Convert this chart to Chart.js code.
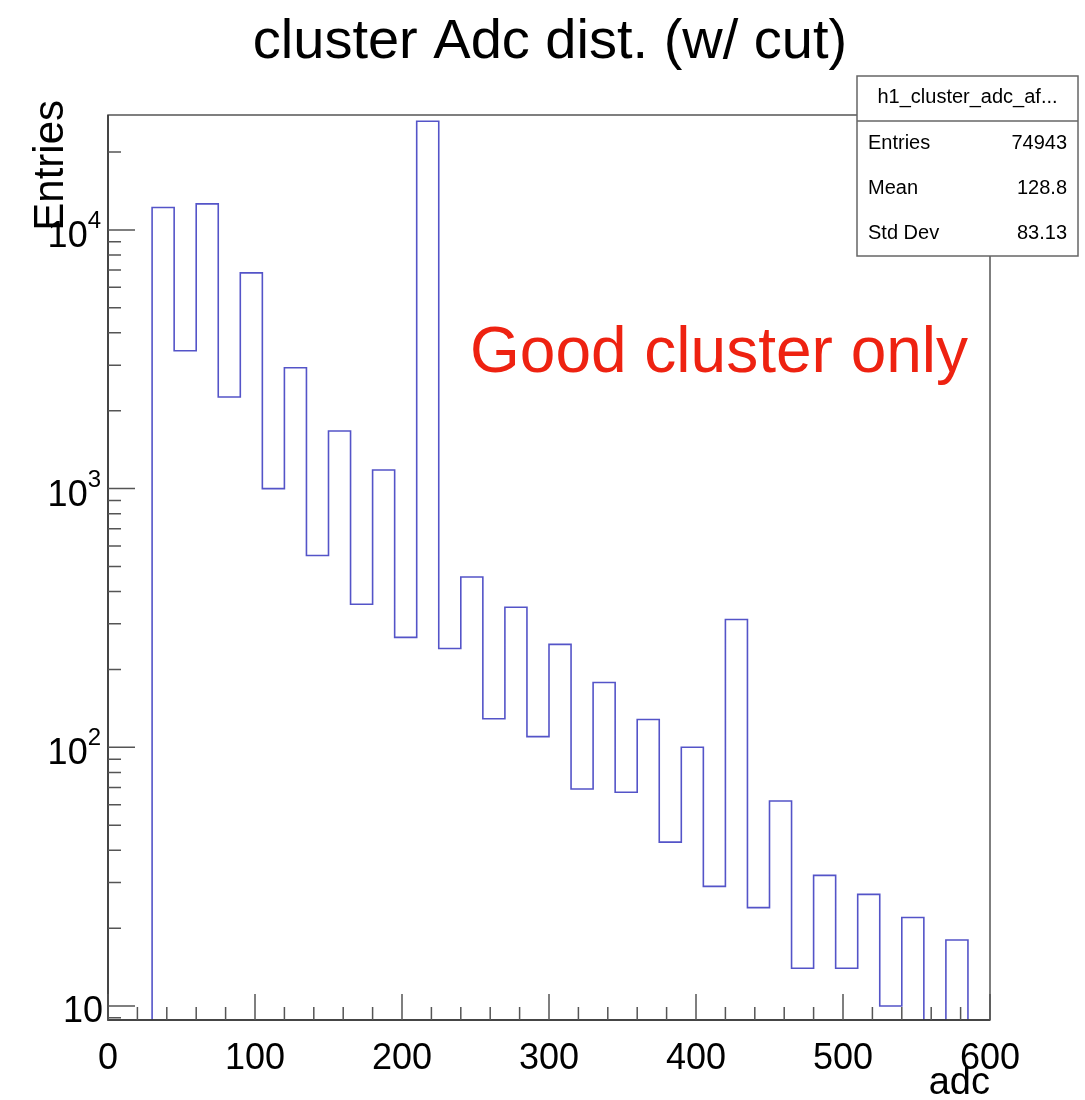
<!DOCTYPE html>
<html>
<head>
<meta charset="utf-8">
<script src="https://cdn.jsdelivr.net/npm/chart.js@4.4.1/dist/chart.umd.min.js"></script>
<style>
  html, body { margin: 0; padding: 0; background: #ffffff; }
  #wrap { width: 1085px; height: 1100px; }
</style>
</head>
<body>
<div id="wrap"><canvas id="c" width="1085" height="1100"></canvas></div>
<script>
// ---------------- data ----------------
const chartTitle = 'cluster Adc dist. (w/ cut)';
const xTitle = 'adc';
const yTitle = 'Entries';
const annotation = 'Good cluster only';
const binWidth = 15;
const binLowEdges = [30, 45, 60, 75, 90, 105, 120, 135, 150, 165, 180, 195, 210, 225, 240, 255, 270, 285, 300,
                     315, 330, 345, 360, 375, 390, 405, 420, 435, 450, 465, 480, 495, 510, 525, 540, 555, 570];
const counts = [12200, 3410, 12600, 2260, 6820, 1000, 2930, 551, 1670, 357, 1180, 266, 26300, 241, 455, 129, 348, 110, 250,
                69, 178, 67, 128, 43, 100, 29, 312, 24, 62, 14, 32, 14, 27, 10, 22, 0, 18];
const xTickValues = [0, 100, 200, 300, 400, 500, 600];
const yDecades = [10, 100, 1000, 10000];
const statsName = 'h1_cluster_adc_af...';
const statsLabels = ['Entries', 'Mean', 'Std Dev'];
const statsValues = ['74943', '128.8', '83.13'];
const X_MIN = 0, X_MAX = 600;
const Y_MIN = 8.83, Y_MAX = 27800;

// ---------------- build histogram outline ----------------
const FONT = '"Liberation Sans", Arial, Helvetica, sans-serif';
const lowVal = Y_MIN;
const pts = [];
pts.push({ x: binLowEdges[0], y: lowVal });
binLowEdges.forEach((e, i) => {
  pts.push({ x: e, y: Math.max(counts[i], lowVal) });
});
const lastEdge = binLowEdges[binLowEdges.length - 1] + binWidth;
pts.push({ x: lastEdge, y: Math.max(counts[counts.length - 1], lowVal) });
pts.push({ x: lastEdge, y: lowVal });

// ---------------- decorations plugin (ROOT style) ----------------
const rootDecor = {
  id: 'rootDecor',
  afterDraw(chart) {
    const ctx = chart.ctx;
    const a = chart.chartArea;
    const xs = chart.scales.x, ys = chart.scales.y;
    ctx.save();

    // frame
    ctx.strokeStyle = '#555555';
    ctx.lineWidth = 1.5;
    ctx.strokeRect(a.left, a.top, a.right - a.left, a.bottom - a.top);

    // axes
    ctx.strokeStyle = '#333333';
    ctx.beginPath();
    ctx.moveTo(a.left, a.top); ctx.lineTo(a.left, a.bottom); ctx.lineTo(a.right, a.bottom);
    ctx.stroke();

    // x ticks (inside, from bottom)
    ctx.strokeStyle = '#555555';
    ctx.lineWidth = 1.5;
    ctx.beginPath();
    for (let v = X_MIN; v <= X_MAX; v += 20) {
      const px = xs.getPixelForValue(v);
      const len = (v % 100 === 0) ? 26 : 13;
      ctx.moveTo(px, a.bottom); ctx.lineTo(px, a.bottom - len);
    }
    // y ticks (inside, from left)
    [1, 10, 100, 1000, 10000].forEach(d => {
      for (let m = 1; m <= 9; m++) {
        const v = m * d;
        if (v < Y_MIN || v > Y_MAX) continue;
        const py = ys.getPixelForValue(v);
        const len = (m === 1) ? 27 : 13;
        ctx.moveTo(a.left, py); ctx.lineTo(a.left + len, py);
      }
    });
    ctx.stroke();

    // y labels 10^n
    ctx.fillStyle = '#000000';
    const rightX = a.left - 7;
    yDecades.forEach(d => {
      const e = Math.round(Math.log10(d));
      const py = ys.getPixelForValue(d);
      ctx.textBaseline = 'alphabetic';
      if (e === 1) {
        ctx.font = '36px ' + FONT;
        ctx.textAlign = 'right';
        ctx.fillText('10', rightX + 2, py + 16);
      } else {
        ctx.font = '24px ' + FONT;
        const sup = String(e);
        const sw = ctx.measureText(sup).width;
        ctx.textAlign = 'right';
        ctx.fillText(sup, rightX, py - 2);
        ctx.font = '36px ' + FONT;
        ctx.fillText('10', rightX - sw, py + 17);
      }
    });

    // title
    ctx.font = '56px ' + FONT;
    ctx.textAlign = 'center';
    ctx.textBaseline = 'alphabetic';
    ctx.fillText(chartTitle, 550, 58);

    // y title (rotated, aligned to the top)
    ctx.save();
    ctx.translate(63, a.top - 15);
    ctx.rotate(-Math.PI / 2);
    ctx.font = '42px ' + FONT;
    ctx.textAlign = 'right';
    ctx.textBaseline = 'alphabetic';
    ctx.fillText(yTitle, 0, 0);
    ctx.restore();

    // x title
    ctx.font = '38px ' + FONT;
    ctx.textAlign = 'right';
    ctx.fillText(xTitle, a.right, 1094);

    // annotation
    ctx.font = '64px ' + FONT;
    ctx.fillStyle = '#ee2211';
    ctx.textAlign = 'left';
    ctx.fillText(annotation, 470, 372);

    // stats box
    const bx = 857, by = 76, bw = 221, bh = 180;
    ctx.fillStyle = '#ffffff';
    ctx.fillRect(bx, by, bw, bh);
    ctx.strokeStyle = '#666666';
    ctx.lineWidth = 1.5;
    ctx.strokeRect(bx, by, bw, bh);
    ctx.beginPath();
    ctx.moveTo(bx, 121); ctx.lineTo(bx + bw, 121);
    ctx.stroke();
    ctx.fillStyle = '#000000';
    ctx.font = '20px ' + FONT;
    ctx.textBaseline = 'middle';
    ctx.textAlign = 'center';
    ctx.fillText(statsName, bx + bw / 2, 97);
    const rowsY = [143, 188, 233];
    statsLabels.forEach((lab, i) => {
      ctx.textAlign = 'left';
      ctx.fillText(lab, 868, rowsY[i]);
      ctx.textAlign = 'right';
      ctx.fillText(statsValues[i], 1067, rowsY[i]);
    });

    ctx.restore();
  }
};

new Chart(document.getElementById('c'), {
  type: 'line',
  data: {
    datasets: [{
      data: pts,
      stepped: 'before',
      borderColor: '#5454c8',
      borderWidth: 1.6,
      pointRadius: 0,
      fill: false,
      tension: 0
    }]
  },
  options: {
    responsive: false,
    animation: false,
    devicePixelRatio: 1,
    layout: { padding: { top: 115, right: 95, left: 0, bottom: 0 } },
    plugins: { legend: { display: false }, tooltip: { enabled: false }, title: { display: false } },
    scales: {
      x: {
        type: 'linear', min: X_MIN, max: X_MAX,
        grid: { display: false }, border: { display: false },
        afterBuildTicks: s => { s.ticks = xTickValues.map(v => ({ value: v })); },
        afterFit: s => { s.height = 80; },
        ticks: { color: '#000', font: { family: FONT, size: 36 }, padding: 9, maxRotation: 0, autoSkip: false }
      },
      y: {
        type: 'logarithmic', min: Y_MIN, max: Y_MAX,
        grid: { display: false }, border: { display: false },
        afterFit: s => { s.width = 108; },
        ticks: { display: false }
      }
    }
  },
  plugins: [rootDecor]
});
</script>
</body>
</html>
